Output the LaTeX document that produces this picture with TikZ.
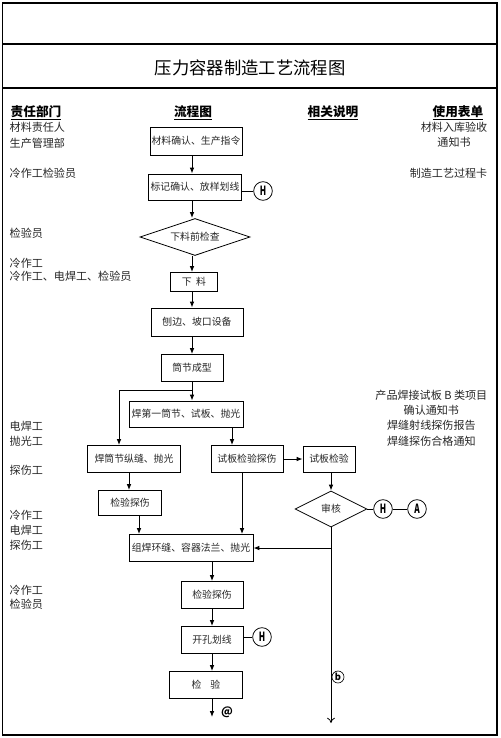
\documentclass[tikz,border=0pt]{standalone}
\usepackage{fontspec}
\setmainfont{Noto Sans CJK SC}
\usetikzlibrary{arrows.meta,shapes.geometric}

\tikzset{
  box/.style={draw, line width=0.6pt, inner sep=1pt, text=black!85,
    font=\fontsize{7.4}{9}\selectfont},
  check/.style={diamond, draw, line width=0.6pt, inner sep=0pt, text=black!85,
    font=\fontsize{7.4}{9}\selectfont},
  holdpt/.style={circle, draw, line width=0.6pt, inner sep=0pt, minimum size=14pt,
    font=\bfseries\fontsize{9.5}{9.5}\selectfont},
  flow/.style={line width=0.7pt, -{Latex[length=4.5pt,width=3.5pt]}},
  link/.style={line width=0.6pt},
  duty/.style={anchor=west, text=black!85, font=\fontsize{8.3}{10}\selectfont},
  form/.style={anchor=east, text=black!85, font=\fontsize{8.3}{11.5}\selectfont},
  head/.style={font=\bfseries\fontsize{9.5}{11}\selectfont}
}
\newcommand\hletter[1]{\scalebox{0.65}[1]{#1}}

\begin{document}
\begin{tikzpicture}[x=0.75pt, y=-0.75pt]
\useasboundingbox (0,0) rectangle (500,738);

% Frame and title.
\draw[line width=1.2pt] (2.5,3) rectangle (497,735);
\draw[line width=0.9pt] (2.5,44) -- (497,44);
\draw[line width=0.9pt] (2.5,88) -- (497,88);
\node[font=\fontsize{13}{14}\selectfont] (title) at (250,68) {压力容器制造工艺流程图};

% Column heads.
\node[head, anchor=west] (headduty) at (6,113) {\underline{责任部门}};
\node[head] (headflow) at (193,113) {\underline{流程图}};
\node[head] (headnote) at (333,113) {\underline{相关说明}};
\node[head, anchor=east] (headform) at (488,113) {\underline{使用表单}};

% Who is responsible.
\foreach \n/\y/\t in {1/127/材料责任人, 2/143/生产管理部, 3/173/冷作工检验员,
    4/233/检验员, 5/263/冷作工, 6/276/冷作工、电焊工、检验员, 7/426/电焊工,
    8/441/抛光工, 9/470/探伤工, 10/515/冷作工, 11/530/电焊工, 12/545/探伤工,
    13/590/冷作工, 14/604/检验员}
  \node[duty] (duty\n) at (5,\y) {\t};

% Forms used.
\node[form, align=center] (form1) at (492,135) {材料入库验收\\通知书};
\node[form] (form2) at (492,173) {制造工艺过程卡};
\node[form, align=center] (form3) at (492,418)
  {产品焊接试板 B 类项目\\确认通知书\\焊缝射线探伤报告\\焊缝探伤合格通知};

% Flow steps.
\node[box, minimum width=69pt, minimum height=21pt] (order) at (196,141) {材料确认、生产指令};
\node[box, minimum width=69.75pt, minimum height=19.5pt] (layout) at (195,187) {标记确认、放样划线};
\node[check, aspect=3, minimum width=82.5pt, minimum height=27.75pt] (precheck) at (195,237) {下料前检查};
\node[box, minimum width=35.25pt, minimum height=14.25pt] (cut) at (194,282) {下\ \ 料};
\node[box, minimum width=69pt, minimum height=21pt] (bevel) at (197,322) {刨边、坡口设备};
\node[box, minimum width=46.5pt, minimum height=20.25pt] (roll) at (192,368) {筒节成型};
\node[box, minimum width=85.5pt, minimum height=19.5pt] (first) at (186,414) {焊第一筒节、试板、抛光};
\node[box, minimum width=69.75pt, minimum height=20.25pt] (seam) at (134,459) {焊筒节纵缝、抛光};
\node[box, minimum width=54pt, minimum height=20.25pt] (plateinsp) at (247,459) {试板检验探伤};
\node[box, minimum width=39pt, minimum height=19.5pt] (platetest) at (329,459) {试板检验};
\node[box, minimum width=47.25pt, minimum height=18.75pt] (seaminsp) at (130,503) {检验探伤};
\node[check, aspect=2, minimum width=54pt, minimum height=27pt] (review) at (331,509) {审核};
\node[box, minimum width=93pt, minimum height=20.25pt] (girth) at (191,548) {组焊环缝、容器法兰、抛光};
\node[box, minimum width=46.5pt, minimum height=20.25pt] (girthinsp) at (212,595) {检验探伤};
\node[box, minimum width=46.5pt, minimum height=20.25pt] (holes) at (212,640) {开孔划线};
\node[box, minimum width=54.75pt, minimum height=20.25pt] (final) at (206,685) {检\ \ \ \ 验};

% Hold points.
\node[holdpt] (hold1) at (263,191) {\hletter{H}};
\node[holdpt] (hold2) at (383,509) {\hletter{H}};
\node[holdpt] (agree) at (417,509) {\hletter{A}};
\node[holdpt] (hold3) at (262,637) {\hletter{H}};

\draw[link] (hold1.west -| layout.east) -- (hold1.west);
\draw[link] (review.east) -- (hold2.west);
\draw[link] (hold2.east) -- (agree.west);
\draw[link] (hold3.west -| holes.east) -- (hold3.west);

% Main line.
\coordinate (spine) at (192,0);
\draw[flow] (order.south -| spine) -- (layout.north -| spine);
\draw[flow] (layout.south -| spine) -- (precheck.north -| spine);
\draw[flow] (precheck.south -| spine) -- (cut.north -| spine);
\draw[flow] (cut.south -| spine) -- (bevel.north -| spine);
\draw[flow] (bevel.south -| spine) -- (roll.north -| spine);
\draw[flow] (roll.south -| spine) -- (first.north -| spine);

% Branches after the first shell.
\coordinate (fork) at (192,390);
\coordinate (leftcol) at (119,390);
\draw[flow] (fork) -- (leftcol) -- (leftcol |- seam.north);
\coordinate (platecol) at (232,0);
\draw[flow] (first.south -| platecol) -- (plateinsp.north -| platecol);
\draw[flow] (plateinsp.east) -- (platetest.west);
\draw[flow] (platetest.south -| review.north) -- (review.north);
\coordinate (seamcol) at (129,0);
\draw[flow] (seam.south -| seamcol) -- (seaminsp.north -| seamcol);
\coordinate (joincol) at (139,0);
\draw[flow] (seaminsp.south -| joincol) -- (girth.north -| joincol);
\coordinate (platejoin) at (242,0);
\draw[flow] (plateinsp.south -| platejoin) -- (girth.north -| platejoin);
\draw[flow] (review.south |- girth.east) -- (girth.east);

% Long return line.
\coordinate (down) at (331,723);
\draw[line width=0.6pt, -{To[length=4pt,width=6pt]}] (review.south) -- (down);
\node[circle, draw, line width=0.5pt, inner sep=0.6pt, fill=white,
  font=\bfseries\fontsize{7}{7}\selectfont] (markb) at (338,677) {b};

% Lower steps.
\coordinate (lowcol) at (212,0);
\draw[flow] (girth.south -| lowcol) -- (girthinsp.north -| lowcol);
\draw[flow] (girthinsp.south -| lowcol) -- (holes.north -| lowcol);
\draw[flow] (holes.south -| lowcol) -- (final.north -| lowcol);
\coordinate (tail) at (212,717);
\draw[flow] (final.south -| lowcol) -- (tail);
\node[font=\bfseries\fontsize{8.5}{9}\selectfont] (marka) at (227,712) {@};

\end{tikzpicture}
\end{document}
